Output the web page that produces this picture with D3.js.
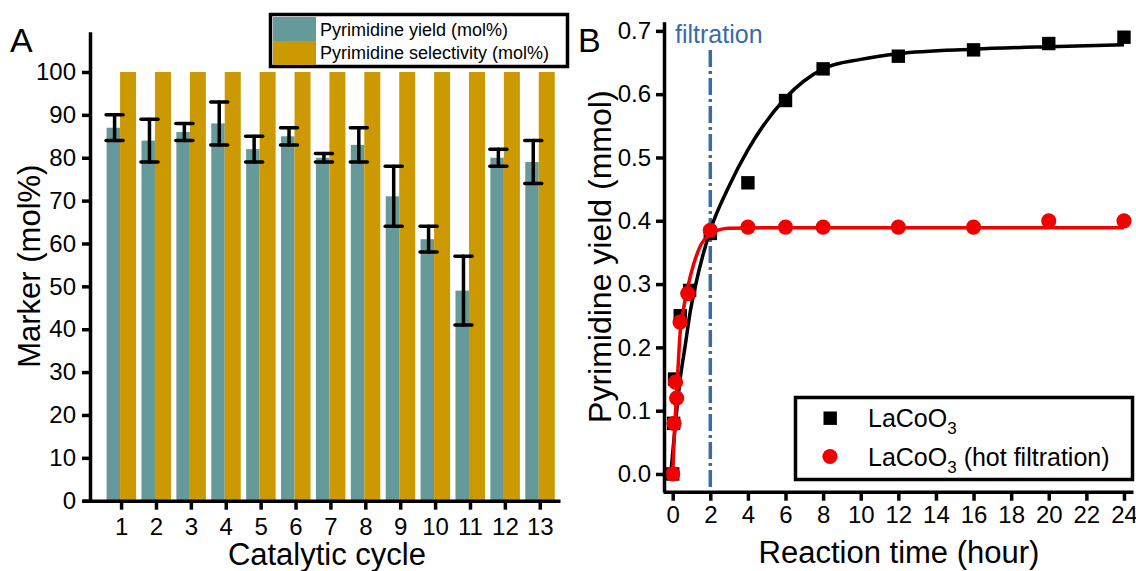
<!DOCTYPE html>
<html>
<head>
<meta charset="utf-8">
<script src="https://cdn.jsdelivr.net/npm/d3@7"></script>
<style>
  body { margin: 0; background: #fff; }
  svg { display: block; font-family: "Liberation Sans", Arial, sans-serif; }
</style>
</head>
<body>
<div id="chart"></div>
<script>
// ---- panel A data
const cycles = [1, 2, 3, 4, 5, 6, 7, 8, 9, 10, 11, 12, 13];
const yieldMean = [87, 84, 86, 88, 82, 85, 80, 83, 71, 61, 49, 80, 79];
const yieldLow = [84, 79, 84, 83, 79, 83, 79, 79, 64, 58, 41, 78, 74];
const yieldHigh = [90, 89, 88, 93, 85, 87, 81, 87, 78, 64, 57, 82, 84];
const selectivity = [100, 100, 100, 100, 100, 100, 100, 100, 100, 100, 100, 100, 100];
const ticksA = [0, 10, 20, 30, 40, 50, 60, 70, 80, 90, 100];

// ---- panel B data
const blackTime = [0, 0.05, 0.1, 0.4, 0.9, 2, 4, 6, 8, 12, 16, 20, 24];
const blackYield = [0, 0.08, 0.15, 0.25, 0.29, 0.38, 0.46, 0.59, 0.64, 0.66, 0.67, 0.68, 0.69];
const redTime = [0, 0.07, 0.15, 0.21, 0.39, 0.8, 2, 4, 6, 8, 12, 16, 20, 24];
const redYield = [0, 0.08, 0.145, 0.12, 0.24, 0.285, 0.385, 0.39, 0.39, 0.39, 0.39, 0.39, 0.40, 0.40];
// fit curves
const blackFitT = [-0.1, 0.03, 0.2, 0.39, 0.65, 0.92, 1.2, 2, 3, 4, 6, 8, 10, 12, 16, 20, 24];
const blackFitY = [0, 0.043, 0.096, 0.148, 0.2, 0.254, 0.296, 0.385, 0.455, 0.512, 0.594, 0.64, 0.655, 0.664, 0.671, 0.675, 0.678];
const redFitT = [0, 0.1, 0.25, 0.4, 0.6, 0.8, 1.1, 1.5, 2, 2.5, 3, 6, 24];
const redFitY = [0, 0.07, 0.15, 0.225, 0.265, 0.295, 0.33, 0.362, 0.379, 0.386, 0.388, 0.389, 0.389];
const ticksBx = [0, 2, 4, 6, 8, 10, 12, 14, 16, 18, 20, 22, 24];
const ticksBy = [0, 0.1, 0.2, 0.3, 0.4, 0.5, 0.6, 0.7];
const filtrationTime = 2;

const TEAL = "#669a9a", GOLD = "#cc9900", RED = "#f20000", BLUE = "#3a6ba5";
const W = 1136, H = 571;

const svg = d3.select("#chart").append("svg")
    .attr("width", W).attr("height", H);

// ================= panel A =================
const xA = d3.scaleLinear().domain([-0.1, 13.58]).range([82.7, 560]);
const yA = d3.scaleLinear().domain([0, 109.4]).range([500.7, 31.7]);

const gA = svg.append("g");

// bars
gA.selectAll(".teal").data(cycles).enter().append("rect")
    .attr("x", (d) => xA(d) - 14.5)
    .attr("width", 13.5)
    .attr("y", (d, i) => yA(yieldMean[i]))
    .attr("height", (d, i) => yA(0) - yA(yieldMean[i]))
    .attr("fill", TEAL);

gA.selectAll(".gold").data(cycles).enter().append("rect")
    .attr("x", (d) => xA(d) - 1)
    .attr("width", 16)
    .attr("y", (d, i) => yA(selectivity[i]))
    .attr("height", (d, i) => yA(0) - yA(selectivity[i]))
    .attr("fill", GOLD);

// error bars
const err = gA.selectAll(".err").data(cycles).enter().append("g")
    .attr("stroke", "#000").attr("stroke-width", 3.5).attr("stroke-linecap", "round");
err.append("line")
    .attr("x1", (d) => xA(d) - 6.5).attr("x2", (d) => xA(d) - 6.5)
    .attr("y1", (d, i) => yA(yieldLow[i])).attr("y2", (d, i) => yA(yieldHigh[i]));
err.append("line")
    .attr("x1", (d) => xA(d) - 15).attr("x2", (d) => xA(d) + 2)
    .attr("y1", (d, i) => yA(yieldLow[i])).attr("y2", (d, i) => yA(yieldLow[i]));
err.append("line")
    .attr("x1", (d) => xA(d) - 15).attr("x2", (d) => xA(d) + 2)
    .attr("y1", (d, i) => yA(yieldHigh[i])).attr("y2", (d, i) => yA(yieldHigh[i]));

// axes
const axA_y = gA.append("g")
    .attr("transform", `translate(${xA(-0.1) + 7.3},0)`)
    .call(d3.axisLeft(yA).tickValues(ticksA).tickSize(8).tickSizeOuter(0).tickPadding(6));
const axA_x = gA.append("g")
    .attr("transform", `translate(0,${yA(0)})`)
    .call(d3.axisBottom(xA).tickValues(cycles).tickSize(9).tickSizeOuter(0).tickPadding(6));

[axA_y, axA_x].forEach((a) => {
    a.select(".domain").attr("stroke-width", 3.5);
    a.selectAll(".tick line").attr("stroke-width", 3.5);
    a.selectAll(".tick text").attr("font-size", 24).attr("fill", "#000")
        .attr("font-family", "Liberation Sans, Arial, sans-serif");
});
axA_x.selectAll(".tick text").attr("dy", "0.8em");

gA.append("text")
    .attr("x", xA(6.9)).attr("y", 565)
    .attr("text-anchor", "middle").attr("font-size", 31)
    .text("Catalytic cycle");

gA.append("text")
    .attr("transform", `translate(40,${(yA(0) + yA(109.4)) / 2}) rotate(-90)`)
    .attr("text-anchor", "middle").attr("font-size", 31)
    .text("Marker (mol%)");

gA.append("text").attr("x", 10).attr("y", 52).attr("font-size", 34).text("A");

// legend A
const legA = gA.append("g");
legA.append("rect").attr("x", 270.5).attr("y", 14.5).attr("width", 297).attr("height", 52)
    .attr("fill", "#fff").attr("stroke", "#000").attr("stroke-width", 3.5);
legA.append("rect").attr("x", 273).attr("y", 17).attr("width", 43).attr("height", 24).attr("fill", TEAL);
legA.append("rect").attr("x", 273).attr("y", 41).attr("width", 43).attr("height", 24).attr("fill", GOLD);
legA.append("text").attr("x", 320).attr("y", 36).attr("font-size", 18).text("Pyrimidine yield (mol%)");
legA.append("text").attr("x", 320).attr("y", 59).attr("font-size", 18).text("Pyrimidine selectivity (mol%)");

// ================= panel B =================
const xB = d3.scaleLinear().domain([-0.516, 24.48]).range([663, 1133]);
const yB = d3.scaleLinear().domain([-0.028, 0.7145]).range([491.7, 21.7]);

const gB = svg.append("g");

// filtration line
gB.append("line")
    .attr("x1", xB(filtrationTime)).attr("x2", xB(filtrationTime))
    .attr("y1", 50).attr("y2", yB(-0.028))
    .attr("stroke", BLUE).attr("stroke-width", 3.5)
    .attr("stroke-dasharray", "17,4,3,4");
gB.append("text")
    .attr("x", 675).attr("y", 43).attr("font-size", 25).attr("fill", BLUE)
    .text("filtration");

const line = d3.line().curve(d3.curveMonotoneX)
    .x((d) => xB(d[0])).y((d) => yB(d[1]));

// black series
gB.selectAll(".sq").data(blackTime).enter().append("rect")
    .attr("x", (d) => xB(d) - 6.7).attr("y", (d, i) => yB(blackYield[i]) - 6.7)
    .attr("width", 13.4).attr("height", 13.4).attr("fill", "#000");
gB.append("path")
    .datum(blackFitT.map((t, i) => [t, blackFitY[i]]))
    .attr("d", line).attr("fill", "none").attr("stroke", "#000").attr("stroke-width", 3.5);

// red series
gB.selectAll(".dot").data(redTime).enter().append("circle")
    .attr("cx", (d) => xB(d)).attr("cy", (d, i) => yB(redYield[i]))
    .attr("r", 7.6).attr("fill", RED);
gB.append("path")
    .datum(redFitT.map((t, i) => [t, redFitY[i]]))
    .attr("d", line).attr("fill", "none").attr("stroke", RED).attr("stroke-width", 3.5);

// axes B
const axB_y = gB.append("g")
    .attr("transform", `translate(${xB(-0.516) + 1},0)`)
    .call(d3.axisLeft(yB).tickValues(ticksBy).tickFormat(d3.format(".1f"))
        .tickSize(8).tickSizeOuter(0).tickPadding(5));
const axB_x = gB.append("g")
    .attr("transform", `translate(0,${yB(-0.028)})`)
    .call(d3.axisBottom(xB).tickValues(ticksBx).tickSize(9).tickSizeOuter(0).tickPadding(4));

[axB_y, axB_x].forEach((a) => {
    a.select(".domain").attr("stroke-width", 3.5);
    a.selectAll(".tick line").attr("stroke-width", 3.5);
    a.selectAll(".tick text").attr("font-size", 24).attr("fill", "#000")
        .attr("font-family", "Liberation Sans, Arial, sans-serif");
});
axB_x.selectAll(".tick text").attr("dy", "0.75em");

gB.append("text")
    .attr("x", 899).attr("y", 563)
    .attr("text-anchor", "middle").attr("font-size", 31)
    .text("Reaction time (hour)");

gB.append("text")
    .attr("transform", `translate(611,${(yB(-0.028) + yB(0.7145)) / 2}) rotate(-90)`)
    .attr("text-anchor", "middle").attr("font-size", 32)
    .text("Pyrimidine yield (mmol)");

gB.append("text").attr("x", 578).attr("y", 52).attr("font-size", 34).text("B");

// legend B
const legB = gB.append("g");
legB.append("rect").attr("x", 795.5).attr("y", 397.5).attr("width", 337).attr("height", 82)
    .attr("fill", "#fff").attr("stroke", "#000").attr("stroke-width", 3.5);
legB.append("rect").attr("x", 823.5).attr("y", 411.5).attr("width", 13.4).attr("height", 13.4).attr("fill", "#000");
legB.append("circle").attr("cx", 830).attr("cy", 456.5).attr("r", 7.6).attr("fill", RED);

const labB = [["LaCoO", "3", ""], ["LaCoO", "3", " (hot filtration)"]];
labB.forEach((l, i) => {
    const t = legB.append("text").attr("x", 868).attr("y", 427 + i * 38.5).attr("font-size", 25);
    t.append("tspan").text(l[0]);
    t.append("tspan").attr("font-size", 17).attr("dy", 7).text(l[1]);
    t.append("tspan").attr("dy", -7).text(l[2]);
});
</script>
</body>
</html>
